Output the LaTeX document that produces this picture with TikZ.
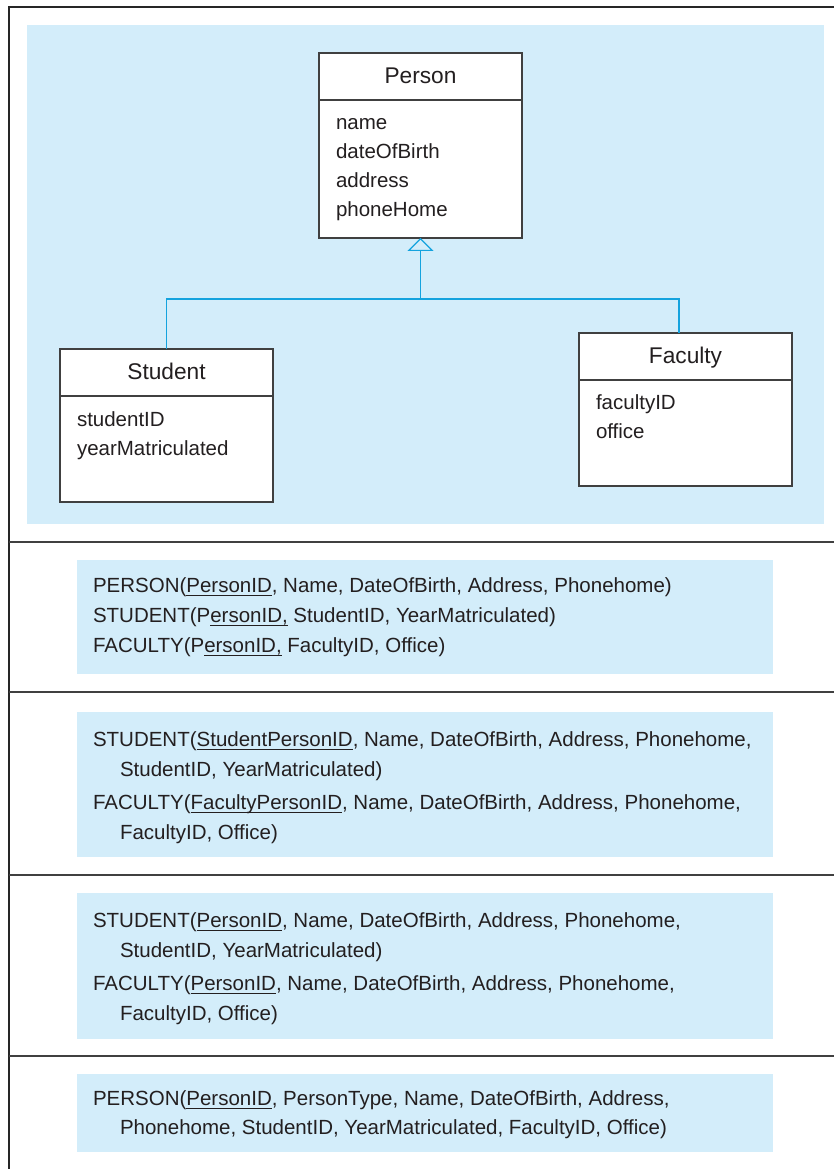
\documentclass[tikz,border=0pt]{standalone}
\usepackage{fontspec}
\setmainfont{Liberation Sans}
\usepackage{tikz}
\usetikzlibrary{positioning,arrows.meta}
\newsavebox{\pkeybox}
\newcommand{\pkey}[1]{\sbox{\pkeybox}{#1}\rlap{\vrule height -1.1pt depth 1.7pt width \wd\pkeybox}\usebox{\pkeybox}}

\begin{document}
\begin{tikzpicture}[x=1pt,y=1pt,
  clsbox/.style={draw=boxColor,line width=1.3pt,fill=white,inner sep=0pt,outer sep=0pt,anchor=north west},
  clstitle/.style={text=textColor,anchor=base,inner sep=0pt,outer sep=0pt,scale=2.27},
  attr/.style={text=textColor,anchor=base west,inner sep=0pt,outer sep=0pt,scale=2.05},
  rel/.style={text=textColor,anchor=base west,inner sep=0pt,outer sep=0pt,scale=2.05},
  link/.style={draw=linkColor,line width=1.2pt}]
\definecolor{fillColor}{RGB}{255,255,255}
\definecolor{textColor}{RGB}{35,31,32}
\definecolor{boxColor}{RGB}{64,64,64}
\definecolor{linkColor}{RGB}{20,163,222}
\path[use as bounding box,fill=fillColor] (0,0) rectangle (834,1169);

% panels
\begin{scope}
\definecolor{fillColor}{RGB}{211,237,250}
\path[fill=fillColor] ( 27,645) rectangle (824,1144);
\path[fill=fillColor] ( 77,495) rectangle (773,609);
\path[fill=fillColor] ( 77,312) rectangle (773,457);
\path[fill=fillColor] ( 77,130) rectangle (773,276);
\path[fill=fillColor] ( 77, 17) rectangle (773, 95);
\end{scope}

% frame
\begin{scope}
\definecolor{drawColor}{gray}{0.15}
\path[draw=drawColor,line width=2.2pt] (9,0) -- (9,1162) -- (834,1162);
\definecolor{drawColor}{gray}{0.25}
\foreach \y in {627,477,294,113}
  \path[draw=drawColor,line width=1.6pt] (9,\y) -- (834,\y);
\end{scope}

% class boxes
\node[clsbox,minimum width=203pt,minimum height=47pt] (personhead) at (319,1116) {};
\node[clsbox,minimum width=203pt,minimum height=138pt,below=0pt of personhead] (personbody) {};
\node[clsbox,minimum width=213pt,minimum height=47pt] (studenthead) at (60,820) {};
\node[clsbox,minimum width=213pt,minimum height=106pt,below=0pt of studenthead] (studentbody) {};
\node[clsbox,minimum width=213pt,minimum height=47pt] (facultyhead) at (579,836) {};
\node[clsbox,minimum width=213pt,minimum height=106pt,below=0pt of facultyhead] (facultybody) {};

\node[clstitle] (persontitle) at ([yshift=-7.5pt]personhead.center) {Person};
\node[clstitle] (studenttitle) at ([yshift=-7.5pt]studenthead.center) {Student};
\node[clstitle] (facultytitle) at ([yshift=-7.5pt]facultyhead.center) {Faculty};

\foreach \a [count=\i] in {name,dateOfBirth,address,phoneHome}
  \node[attr] (personattr\i) at (336,1068-29*\i) {\a};
\foreach \a [count=\i] in {studentID,yearMatriculated}
  \node[attr] (studentattr\i) at (77,771-29*\i) {\a};
\foreach \a [count=\i] in {facultyID,office}
  \node[attr] (facultyattr\i) at (596,788-29*\i) {\a};

% generalization
\coordinate (fork) at (420.5,870);
\draw[link] (studenthead.north) |- (fork) -| ([xshift=-6.5pt]facultyhead.north);
\draw[link,-{Triangle[open,width=26pt,length=13pt]}] (fork) -- (personbody.south);

% relations
\node[rel] (relA1) at (93,576) {PERSON(\pkey{PersonID}, Name, DateOfBirth, Address, Phonehome)};
\node[rel] (relA2) at (93,546) {STUDENT(P\pkey{ersonID,} StudentID, YearMatriculated)};
\node[rel] (relA3) at (93,516) {FACULTY(P\pkey{ersonID,} FacultyID, Office)};

\node[rel] (relB1) at (93,422) {STUDENT(\pkey{StudentPersonID}, Name, DateOfBirth, Address, Phonehome,};
\node[rel] (relB2) at (120,392) {StudentID, YearMatriculated)};
\node[rel] (relB3) at (93,359) {FACULTY(\pkey{FacultyPersonID}, Name, DateOfBirth, Address, Phonehome,};
\node[rel] (relB4) at (120,329) {FacultyID, Office)};

\node[rel] (relC1) at (93,241) {STUDENT(\pkey{PersonID}, Name, DateOfBirth, Address, Phonehome,};
\node[rel] (relC2) at (120,211) {StudentID, YearMatriculated)};
\node[rel] (relC3) at (93,178) {FACULTY(\pkey{PersonID}, Name, DateOfBirth, Address, Phonehome,};
\node[rel] (relC4) at (120,148) {FacultyID, Office)};

\node[rel] (relD1) at (93,63) {PERSON(\pkey{PersonID}, PersonType, Name, DateOfBirth, Address,};
\node[rel] (relD2) at (120,34) {Phonehome, StudentID, YearMatriculated, FacultyID, Office)};
\end{tikzpicture}
\end{document}
